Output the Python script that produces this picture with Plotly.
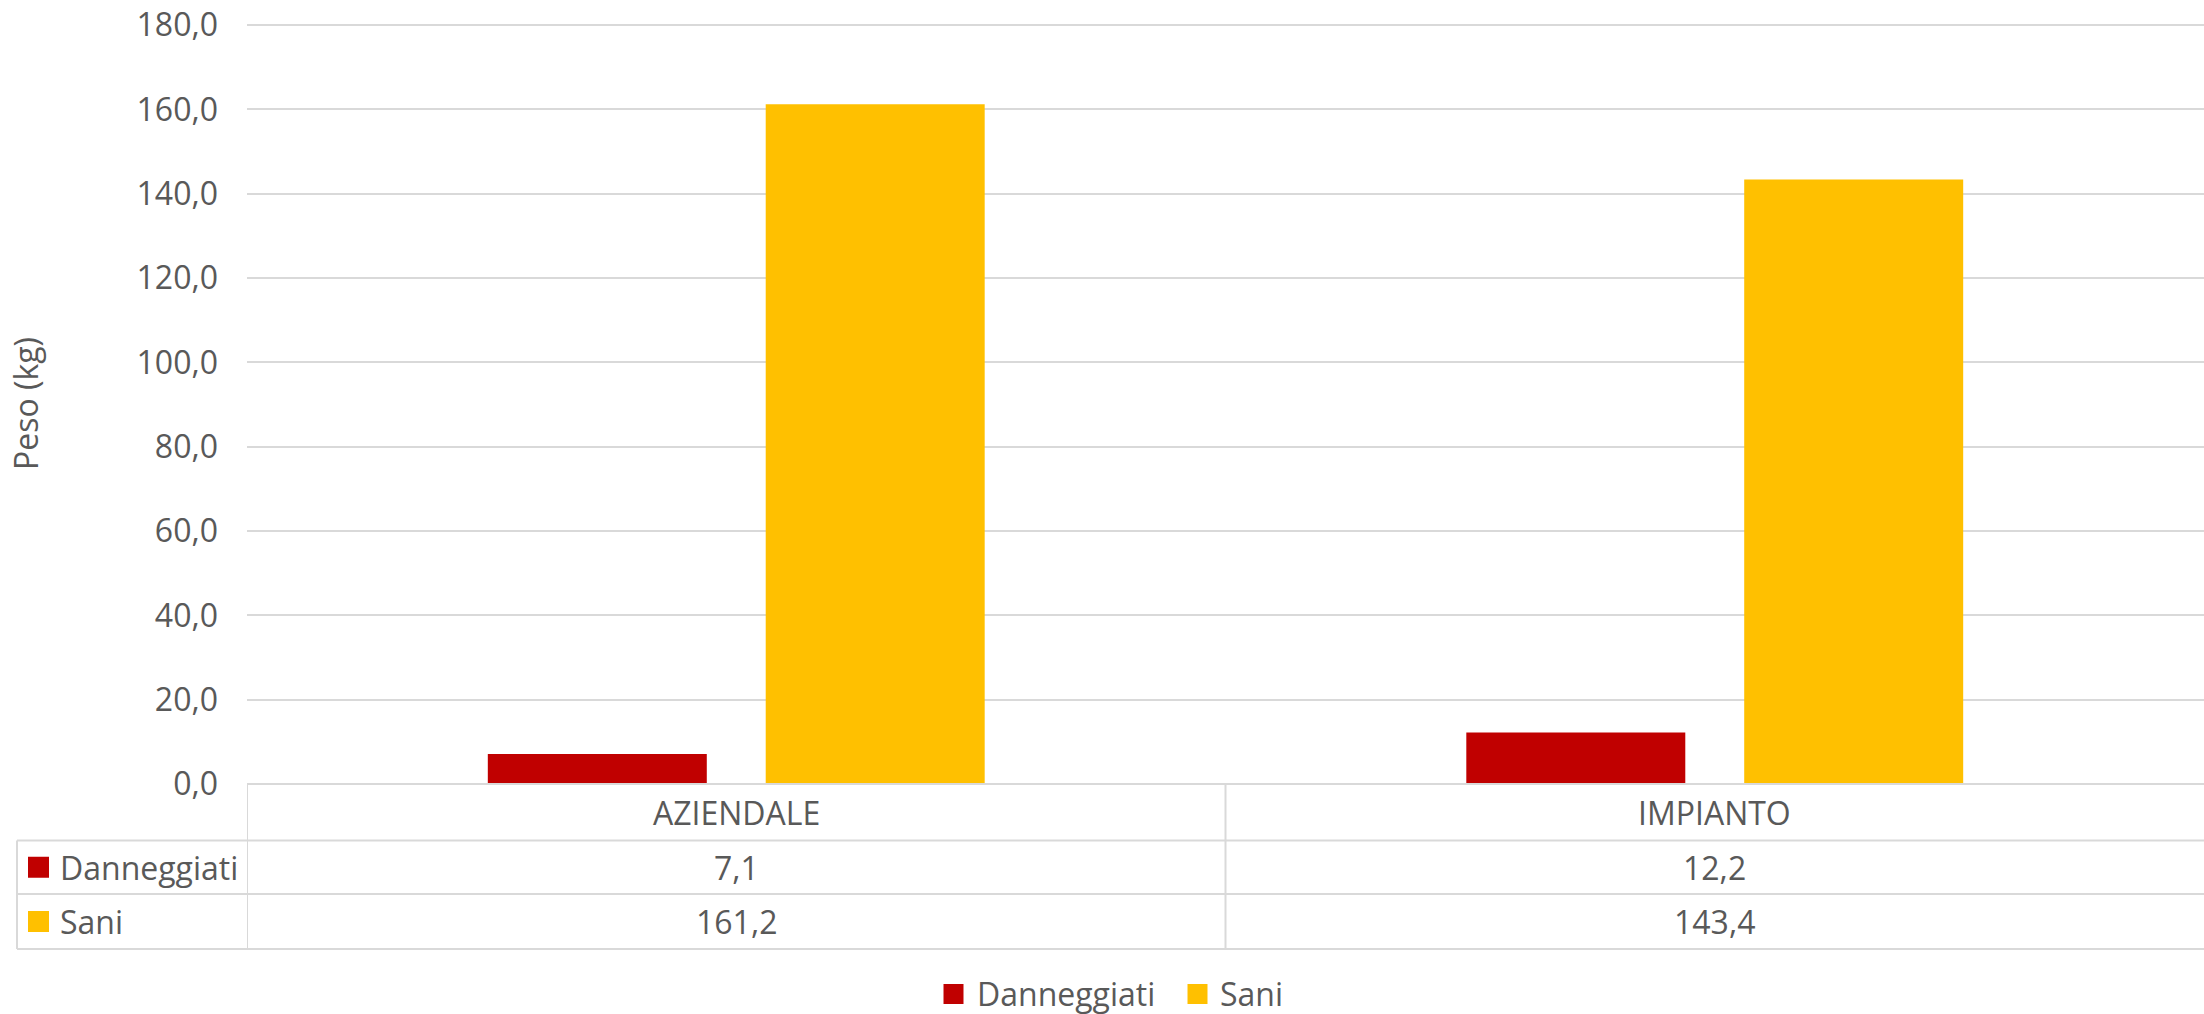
import plotly.graph_objects as go

CATEGORIES = ["AZIENDALE", "IMPIANTO"]
SERIES = ["Danneggiati", "Sani"]
DANNEGGIATI = [7.1, 12.2]
SANI = [161.2, 143.4]
Y_TICKS = [0, 20, 40, 60, 80, 100, 120, 140, 160, 180]

COLORS = {"Danneggiati": "#C00000", "Sani": "#FFC000"}
TEXT = "#595959"
GRID = "#D9D9D9"
FONT = "Open Sans"
FS = 32

W, H = 2204, 1014
ML, MR, MT, MB = 247, 0, 23, 230
PH = H - MT - MB
PW = W - ML - MR


def py(px):
    # screen pixel row -> paper y
    return (H - MB - px) / PH


def pxx(px):
    # screen pixel column -> paper x
    return (px - ML) / PW


fig = go.Figure()
for name, vals in zip(SERIES, [DANNEGGIATI, SANI]):
    fig.add_trace(go.Bar(
        x=CATEGORIES, y=vals, name=name, showlegend=False,
        marker=dict(color=COLORS[name], line_width=0),
    ))

fig.update_layout(
    width=W, height=H,
    margin=dict(l=ML, r=MR, t=MT, b=MB, autoexpand=False),
    paper_bgcolor="white", plot_bgcolor="white",
    barmode="group", bargap=0.432, bargroupgap=0.212,
    separators=",.",
    font=dict(family=FONT, size=FS, color=TEXT),
    showlegend=False,
)
# a little headroom so plotly keeps the 180 gridline (it drops grid at the range end)
fig.update_yaxes(
    range=[0, 180.5], tickvals=Y_TICKS, tickformat=".1f",
    showgrid=True, gridcolor=GRID, gridwidth=1.5,
    zeroline=False, showline=False, ticks="",
    ticklabelstandoff=28, automargin=False,
    title=dict(text="Peso (kg)", font=dict(size=32, color=TEXT), standoff=88),
)
fig.update_xaxes(
    range=[-0.5, 1.5], showticklabels=False, showgrid=False,
    zeroline=False, showline=False, ticks="", automargin=False,
)

# data table below the plot
rows = [("cat", 784, 840.5), ("Danneggiati", 840.5, 894), ("Sani", 894, 949)]
line = dict(color=GRID, width=2)
fig.add_shape(type="line", xref="paper", yref="paper", x0=0, x1=1,
              y0=py(784), y1=py(784), line=line)
for yy in (840.5, 894, 949):
    fig.add_shape(type="line", xref="paper", yref="paper", x0=pxx(17), x1=1,
                  y0=py(yy), y1=py(yy), line=line)
fig.add_shape(type="line", xref="paper", yref="paper", x0=pxx(17), x1=pxx(17),
              y0=py(840.5), y1=py(949), line=line)
for xv in (-0.5, 0.5):
    fig.add_shape(type="line", xref="x", yref="paper", x0=xv, x1=xv,
                  y0=py(784), y1=py(949), line=line)

for i, cat in enumerate(CATEGORIES):
    fig.add_annotation(x=i, xref="x", y=py((784 + 840.5) / 2), yref="paper",
                       text=cat, showarrow=False, yanchor="middle",
                       font=dict(size=FS, color=TEXT))

for (name, top, bot), vals in zip(rows[1:], [DANNEGGIATI, SANI]):
    mid = (top + bot) / 2
    fig.add_shape(type="rect", xref="paper", yref="paper",
                  x0=pxx(28), x1=pxx(49), y0=py(mid - 10.5), y1=py(mid + 10.5),
                  fillcolor=COLORS[name], line_width=0)
    fig.add_annotation(x=pxx(58), xref="paper", y=py(mid), yref="paper",
                       text=name, showarrow=False, xanchor="left", yanchor="middle",
                       font=dict(size=FS, color=TEXT))
    for i, v in enumerate(vals):
        fig.add_annotation(x=i, xref="x", y=py(mid), yref="paper",
                           text=f"{v:.1f}".replace(".", ","), showarrow=False,
                           yanchor="middle", font=dict(size=FS, color=TEXT))

# legend at the bottom, Excel style (square swatch + label)
for name, sx, tx in zip(SERIES, [943.5, 1187.5], [975, 1217.5]):
    fig.add_shape(type="rect", xref="paper", yref="paper",
                  x0=pxx(sx), x1=pxx(sx + 20), y0=py(984), y1=py(1004),
                  fillcolor=COLORS[name], line_width=0)
    fig.add_annotation(x=pxx(tx), xref="paper", y=py(993), yref="paper",
                       text=name, showarrow=False, xanchor="left", yanchor="middle",
                       font=dict(size=FS, color=TEXT))

# drop the default 8px body margin so the figure fills the window exactly
fig.write_html("out.html", config={"displayModeBar": False},
               post_script="document.body.style.margin='0';")
